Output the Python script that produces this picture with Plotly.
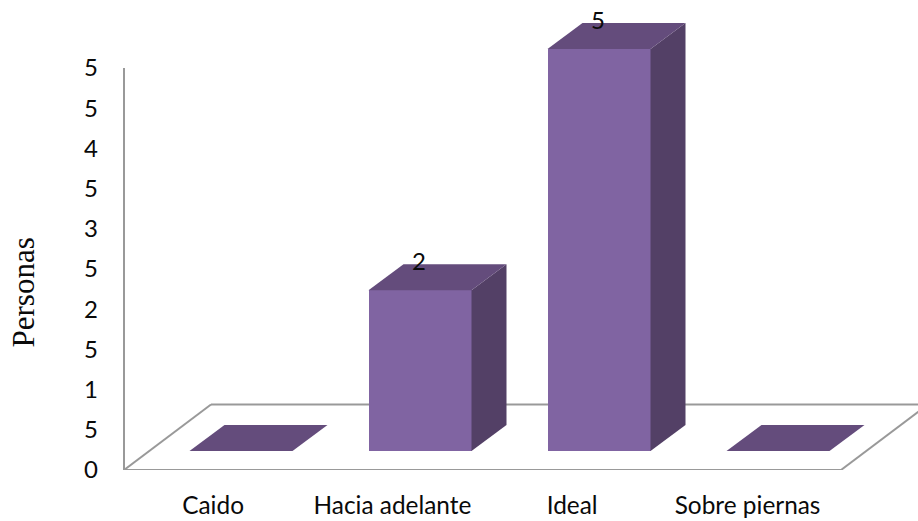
import plotly.graph_objects as go

categories = ["Caido", "Hacia adelante", "Ideal", "Sobre piernas"]
values = [0, 2, 5, 0]
y_ticks = [0, 0.5, 1, 1.5, 2, 2.5, 3, 3.5, 4, 4.5, 5]
y_tick_labels = ["0", "5", "1", "5", "2", "5", "3", "5", "4", "5", "5"]
x_label_positions = [-0.156, 0.846, 1.85, 2.83]

W, H = 918, 521
ML, MB = 104, 51
PX_X = 179.0     # pixels per category
PX_Y = 80.4      # pixels per unit
C0 = 241.0       # pixel centre of the first category
Y0 = 470.0       # pixel of value 0 at the axis

x_min = (ML - C0) / PX_X
x_max = (W - C0) / PX_X
y_max = Y0 / PX_Y

BAR_W = 103 / PX_X
DX = 35 / PX_X
DY = 26 / PX_Y
BASE = 19 / PX_Y
FLOOR_DX = 87 / PX_X
FLOOR_DY = 65.5 / PX_Y
FLOOR_L = (124 - C0) / PX_X
FLOOR_R = (841 - C0) / PX_X

FRONT, TOP, SIDE, GRID = "#8064a2", "#644c7c", "#534066", "#999999"
TEXT = "#0a0a0a"

fig = go.Figure()

# front faces
fig.add_trace(go.Bar(
    x=list(range(len(categories))), y=values, base=[BASE] * len(values), width=BAR_W,
    marker=dict(color=FRONT, line=dict(width=0)), showlegend=False, hoverinfo="skip"))

# side and top faces
for i, v in enumerate(values):
    l, r = i - BAR_W / 2, i + BAR_W / 2
    b, t = BASE, BASE + v
    if v > 0:
        fig.add_trace(go.Scatter(
            x=[r, r + DX, r + DX, r, r], y=[b, b + DY, t + DY, t, b],
            mode="lines", fill="toself", fillcolor=SIDE, line=dict(width=0),
            hoverinfo="skip", showlegend=False))
    fig.add_trace(go.Scatter(
        x=[l, r, r + DX, l + DX, l], y=[t, t, t + DY, t + DY, t],
        mode="lines", fill="toself", fillcolor=TOP, line=dict(width=0),
        hoverinfo="skip", showlegend=False))

# data labels
lab_idx = [i for i, v in enumerate(values) if v > 0]
fig.add_trace(go.Scatter(
    x=[i - 0.006 for i in lab_idx],
    y=[values[i] + BASE + DY for i in lab_idx],
    text=[str(values[i]) for i in lab_idx],
    mode="text", textposition="middle center",
    textfont=dict(family="Lato", size=24, color=TEXT),
    hoverinfo="skip", showlegend=False, cliponaxis=False))

# wall edge and floor outline, behind the bars
edges = [
    (FLOOR_L, 5, FLOOR_L, 0),
    (FLOOR_L, 0, FLOOR_R, 0),
    (FLOOR_L, 0, FLOOR_L + FLOOR_DX, FLOOR_DY),
    (FLOOR_L + FLOOR_DX, FLOOR_DY, x_max, FLOOR_DY),
    (FLOOR_R, 0, FLOOR_R + FLOOR_DX, FLOOR_DY),
]
shapes = [dict(type="line", xref="x", yref="y", x0=a, y0=b, x1=c, y1=d, layer="below",
               line=dict(color=GRID, width=2)) for a, b, c, d in edges]

fig.update_layout(
    width=W, height=H, autosize=False,
    margin=dict(l=ML, r=0, t=0, b=MB),
    paper_bgcolor="white", plot_bgcolor="rgba(0,0,0,0)",
    bargap=0, showlegend=False, shapes=shapes,
    font=dict(family="Lato", size=24, color=TEXT),
    xaxis=dict(range=[x_min, x_max], tickmode="array", tickvals=x_label_positions,
               ticktext=categories, showgrid=False, zeroline=False, showline=False,
               ticks="", ticklabelstandoff=19, tickfont=dict(family="Lato", size=24.4, color=TEXT)),
    yaxis=dict(range=[0, y_max], tickmode="array", tickvals=y_ticks, ticktext=y_tick_labels,
               showgrid=False, zeroline=False, showline=False, ticks="",
               ticklabelstandoff=5, tickfont=dict(family="Lato", size=24, color=TEXT)),
    annotations=[dict(text="Personas", xref="paper", yref="paper", x=(22.5 - ML) / (W - ML),
                      y=1 - 293 / (H - MB), showarrow=False, textangle=-90,
                      xanchor="center", yanchor="middle",
                      font=dict(family="Liberation Serif", size=31, color=TEXT))],
)

fig.write_html("out.html", post_script="document.body.style.margin='0';",
               config={"displayModeBar": False})
